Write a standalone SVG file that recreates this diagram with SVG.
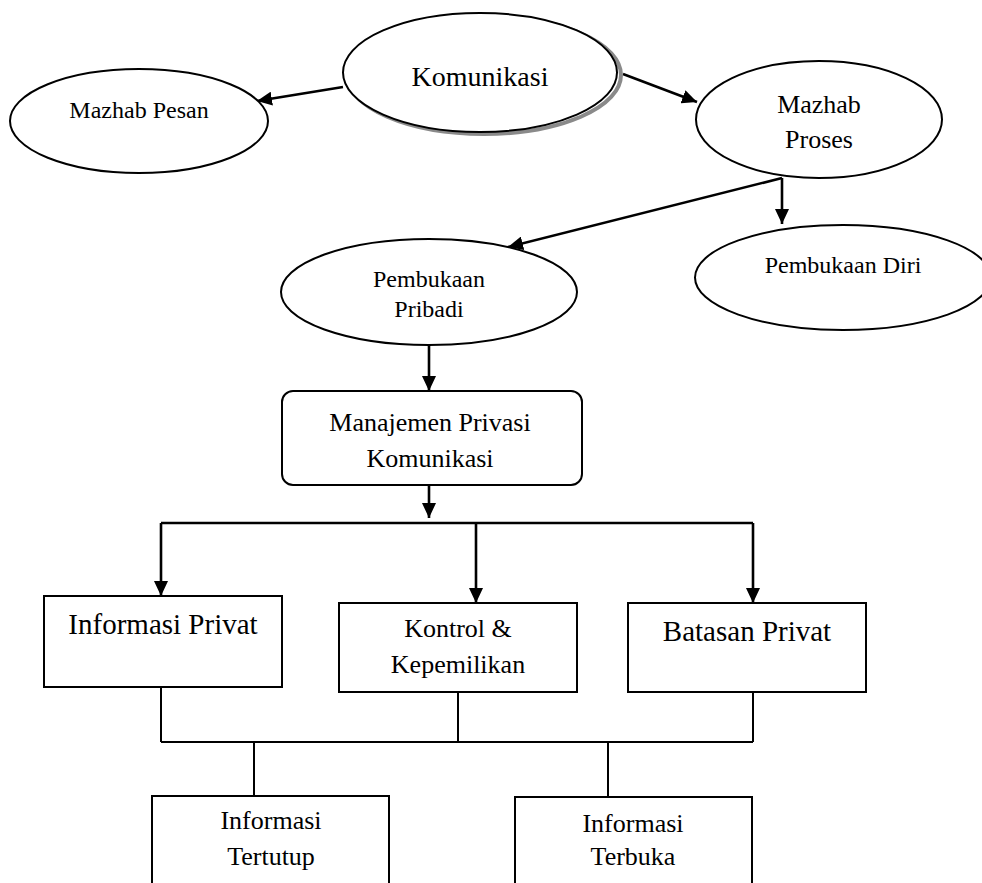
<svg xmlns="http://www.w3.org/2000/svg" width="982" height="883" viewBox="0 0 982 883">
<style>
  .shape { fill: #ffffff; stroke: #000000; stroke-width: 2; }
  .lbl { font-family: "Liberation Serif", "Times New Roman", serif; fill: #000000; text-anchor: middle; }
  .arrow { fill: none; stroke: #000000; stroke-width: 2.6; marker-end: url(#ah); }
  .plain { fill: none; stroke: #000000; stroke-width: 2; }
  .bus { fill: none; stroke: #000000; stroke-width: 2.6; }
</style>
<defs>
  <marker id="ah" markerUnits="userSpaceOnUse" markerWidth="15" markerHeight="14" refX="15" refY="7" orient="auto">
    <path d="M0,0 L15,7 L0,14 z" fill="#000000"/>
  </marker>
</defs>
<rect width="982" height="883" fill="#ffffff"/>

<g id="connectors">
  <path class="arrow" d="M343,87 L257,101"/>
  <path class="arrow" d="M623,74 L697,102"/>
  <path class="arrow" d="M782,178 L508,247"/>
  <path class="arrow" d="M782,178 L782,224"/>
  <path class="arrow" d="M429,345 L429,391"/>
  <path class="arrow" d="M429,485 L429,518"/>
  <path class="bus" d="M161,523 H753"/>
  <path class="arrow" d="M161,523 V596"/>
  <path class="arrow" d="M476,523 V603"/>
  <path class="arrow" d="M753,523 V603"/>
  <path class="plain" d="M161,687 V742 M458,692 V742 M753,692 V742 M161,742 H753 M254,742 V796 M608,742 V797"/>
</g>

<g id="komunikasi">
  <ellipse cx="484" cy="75" rx="137" ry="59" fill="none" stroke="#8a8a8a" stroke-width="4"/>
  <ellipse class="shape" cx="480" cy="72.5" rx="137" ry="59.5"/>
  <text class="lbl" x="480" y="86" font-size="28">Komunikasi</text>
</g>

<g id="mazhab-pesan">
  <ellipse class="shape" cx="139" cy="121" rx="129" ry="52"/>
  <text class="lbl" x="139" y="118" font-size="24">Mazhab Pesan</text>
</g>

<g id="mazhab-proses">
  <ellipse class="shape" cx="819" cy="119.5" rx="123" ry="58.5"/>
  <text class="lbl" x="819" y="113" font-size="26">Mazhab</text>
  <text class="lbl" x="819" y="148" font-size="26">Proses</text>
</g>

<g id="pembukaan-pribadi">
  <ellipse class="shape" cx="429" cy="292" rx="148" ry="53"/>
  <text class="lbl" x="429" y="287" font-size="24">Pembukaan</text>
  <text class="lbl" x="429" y="317" font-size="24">Pribadi</text>
</g>

<g id="pembukaan-diri">
  <ellipse class="shape" cx="843" cy="277.5" rx="148" ry="52.5"/>
  <text class="lbl" x="843" y="273" font-size="24">Pembukaan Diri</text>
</g>

<g id="manajemen">
  <rect class="shape" x="282" y="391" width="300" height="94" rx="11" ry="11"/>
  <text class="lbl" x="430" y="431" font-size="26">Manajemen Privasi</text>
  <text class="lbl" x="430" y="467" font-size="26">Komunikasi</text>
</g>

<g id="informasi-privat">
  <rect class="shape" x="44" y="596" width="238" height="91"/>
  <text class="lbl" x="163" y="634" font-size="29">Informasi Privat</text>
</g>

<g id="kontrol">
  <rect class="shape" x="339" y="603" width="238" height="89"/>
  <text class="lbl" x="458" y="637" font-size="26">Kontrol &amp;</text>
  <text class="lbl" x="458" y="673" font-size="26">Kepemilikan</text>
</g>

<g id="batasan-privat">
  <rect class="shape" x="628" y="603" width="238" height="89"/>
  <text class="lbl" x="747" y="641" font-size="29">Batasan Privat</text>
</g>

<g id="informasi-tertutup">
  <rect class="shape" x="152" y="796" width="237" height="110"/>
  <text class="lbl" x="271" y="829" font-size="26">Informasi</text>
  <text class="lbl" x="271" y="865" font-size="26">Tertutup</text>
</g>

<g id="informasi-terbuka">
  <rect class="shape" x="515" y="797" width="237" height="110"/>
  <text class="lbl" x="633" y="832" font-size="26">Informasi</text>
  <text class="lbl" x="633" y="865" font-size="26">Terbuka</text>
</g>
</svg>
